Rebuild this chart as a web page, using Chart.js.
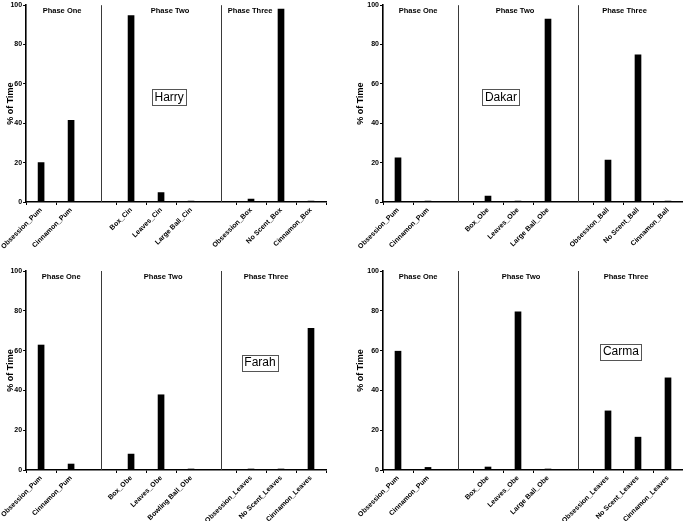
<!DOCTYPE html>
<html><head><meta charset="utf-8">
<script src="https://cdn.jsdelivr.net/npm/chart.js@4/dist/chart.umd.min.js"></script>
<style>
html,body{margin:0;padding:0;background:#fff;width:683px;height:521px;overflow:hidden;}
canvas{position:absolute;}
</style></head><body>
<canvas id="c0" width="341" height="260" style="left:0;top:0"></canvas>
<canvas id="c1" width="341" height="260" style="left:342px;top:0"></canvas>
<canvas id="c2" width="341" height="261" style="left:0;top:260px"></canvas>
<canvas id="c3" width="341" height="261" style="left:342px;top:260px"></canvas>
<script>
// ---- data ----
const phaseNames = ['Phase One', 'Phase Two', 'Phase Three'];
const yTicks = [0, 20, 40, 60, 80, 100];

const harryCats = ['Obsession_Pum', 'Cinnamon_Pum', '', 'Box_Cin', 'Leaves_Cin', 'Large Ball_Cin', '', 'Obsession_Box', 'No Scent_Box', 'Cinnamon_Box'];
const harryVals = [20, 41.5, null, 94.7, 4.8, 0.5, null, 1.5, 98, 0.5];

const dakarCats = ['Obsession_Pum', 'Cinnamon_Pum', '', 'Box_Obe', 'Leaves_Obe', 'Large Ball_Obe', '', 'Obsession_Ball', 'No Scent_Ball', 'Cinnamon_Ball'];
const dakarVals = [22.5, 0.5, null, 3, 0.5, 93, null, 21.3, 74.8, 0.5];

const farahCats = ['Obsession_Pum', 'Cinnamon_Pum', '', 'Box_Obe', 'Leaves_Obe', 'Bowling Ball_Obe', '', 'Obsession_Leaves', 'No Scent_Leaves', 'Cinnamon_Leaves'];
const farahVals = [62.8, 3, null, 8, 37.8, 0.5, null, 0.5, 0.5, 71.2];

const carmaCats = ['Obsession_Pum', 'Cinnamon_Pum', '', 'Box_Obe', 'Leaves_Obe', 'Large Ball_Obe', '', 'Obsession_Leaves', 'No Scent_Leaves', 'Cinnamon_Leaves'];
const carmaVals = [59.7, 1.3, null, 1.5, 79.5, 0.5, null, 29.7, 16.5, 46.3];

// ---- layout ----
const FONT = '"Liberation Sans", Arial, sans-serif';
const panels = [
  {id:'c0', name:'Harry', cats:harryCats, vals:harryVals, yw:26, top:3, right:15, xh:58, titlePad:5,
   phasePos:[0.7, 4.3, 6.97], box:[4.27, 53.5]},
  {id:'c1', name:'Dakar', cats:dakarCats, vals:dakarVals, yw:41, top:3, right:0, xh:58, titlePad:13,
   phasePos:[0.67, 3.9, 7.55], box:[3.43, 53.5]},
  {id:'c2', name:'Farah', cats:farahCats, vals:farahVals, yw:26, top:11, right:15, xh:51, titlePad:5,
   phasePos:[0.67, 4.07, 7.5], box:[7.3, 54]},
  {id:'c3', name:'Carma', cats:carmaCats, vals:carmaVals, yw:41, top:11, right:0, xh:51, titlePad:13,
   phasePos:[0.67, 4.1, 7.6], box:[7.43, 59.5]},
];

const decorPlugin = {
  id: 'decor',
  afterDatasetsDraw(chart, args, opts) {
    const ctx = chart.ctx, x = chart.scales.x, y = chart.scales.y, ca = chart.chartArea;
    ctx.save();
    // dividers at the empty slots
    ctx.strokeStyle = '#3a3a3a';
    ctx.lineWidth = 1;
    chart.data.labels.forEach((l, i) => {
      if (l === '') {
        const px = Math.round(x.getPixelForValue(i)) + 0.5;
        ctx.beginPath(); ctx.moveTo(px, ca.top); ctx.lineTo(px, ca.bottom); ctx.stroke();
      }
    });
    // phase headings
    ctx.fillStyle = '#000';
    ctx.font = 'bold 7.5px ' + FONT;
    ctx.textAlign = 'center';
    ctx.textBaseline = 'middle';
    phaseNames.forEach((p, i) => {
      ctx.fillText(p, x.getPixelForValue(opts.phasePos[i]), ca.top + 6);
    });
    // name box
    ctx.font = '12px ' + FONT;
    const bx = x.getPixelForValue(opts.box[0]), by = y.getPixelForValue(opts.box[1]);
    const w = ctx.measureText(opts.name).width + 5, h = 16;
    ctx.fillStyle = '#fff';
    ctx.fillRect(bx - w/2, by - h/2, w, h);
    ctx.strokeStyle = '#555';
    ctx.strokeRect(Math.round(bx - w/2) + 0.5, Math.round(by - h/2) + 0.5, Math.round(w), h);
    ctx.fillStyle = '#000';
    ctx.fillText(opts.name, bx, by + 0.5);
    ctx.restore();
  }
};

panels.forEach(p => {
  new Chart(document.getElementById(p.id), {
    type: 'bar',
    data: {
      labels: p.cats,
      datasets: [{
        data: p.vals,
        backgroundColor: '#000',
        borderWidth: 0,
        barThickness: 6
      }]
    },
    plugins: [decorPlugin],
    options: {
      responsive: false,
      animation: false,
      events: [],
      layout: {padding: {top: p.top, right: p.right, left: 0, bottom: 0}},
      plugins: {
        legend: {display: false},
        tooltip: {enabled: false},
        decor: {phasePos: p.phasePos, box: p.box, name: p.name}
      },
      scales: {
        x: {
          type: 'category',
          offset: true,
          grid: {display: true, drawOnChartArea: false, tickLength: 3,
                 color: ctx => (p.cats[ctx.index] === '' ? 'rgba(0,0,0,0)' : '#000'), lineWidth: 1},
          border: {display: true, color: '#000', width: 1.6},
          ticks: {autoSkip: false, maxRotation: 45, minRotation: 45, padding: 1,
                  color: '#000', font: {family: FONT, size: 7, weight: 'bold'}},
          afterFit: s => { s.height = p.xh; }
        },
        y: {
          min: 0, max: 100,
          afterBuildTicks: s => { s.ticks = yTicks.map(v => ({value: v})); },
          grid: {display: true, drawOnChartArea: false, tickLength: 3, color: '#000', lineWidth: 1},
          border: {display: true, color: '#000', width: 1.6},
          ticks: {padding: 1, color: '#000', font: {family: FONT, size: 7, weight: 'bold'}},
          title: {display: true, text: '% of Time', color: '#000', padding: {top: p.titlePad, bottom: 0},
                  font: {family: FONT, size: 9, weight: 'bold'}},
          afterFit: s => { s.width = p.yw; }
        }
      }
    }
  });
});
</script>
</body></html>
